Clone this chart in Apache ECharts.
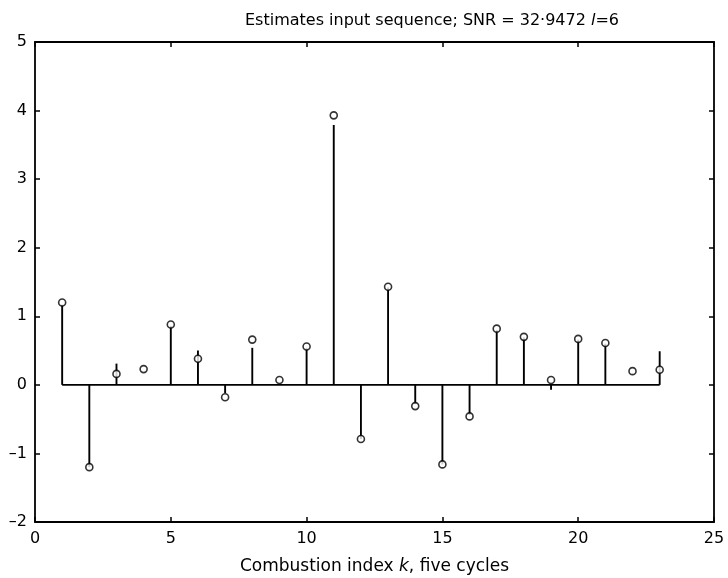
<!DOCTYPE html>
<html>
<head>
<meta charset="utf-8">
<script src="https://cdn.jsdelivr.net/npm/echarts@6/dist/echarts.min.js"></script>
<style>
  html, body { margin: 0; padding: 0; background: #fff; }
  #chart { width: 728px; height: 578px; }
</style>
</head>
<body>
<div id="chart"></div>
<script>
// Combustion index k (five cycles)
const indexK = [1, 2, 3, 4, 5, 6, 7, 8, 9, 10, 11, 12, 13, 14, 15, 16, 17, 18, 19, 20, 21, 22, 23];
// Stem heights (input sequence)
const stemValues = [1.17, -1.2, 0.31, 0, 0.86, 0.5, -0.12, 0.54, 0, 0.54, 3.79, -0.79, 1.42, -0.28, -1.16, -0.44, 0.8, 0.69, -0.07, 0.66, 0.6, 0, 0.49];
// Estimated input values (open circles)
const estimateValues = [1.2, -1.2, 0.16, 0.23, 0.88, 0.38, -0.18, 0.66, 0.07, 0.56, 3.93, -0.79, 1.43, -0.31, -1.16, -0.46, 0.82, 0.7, 0.07, 0.67, 0.61, 0.2, 0.22];
// Axis tick labels
const xTickLabels = [0, 5, 10, 15, 20, 25];
const yTickLabels = [-2, -1, 0, 1, 2, 3, 4, 5];

const INK = '#000';
const FONT = '"DejaVu Sans", "Liberation Sans", sans-serif';

const stemData = indexK.map((k, i) => [k, stemValues[i]]);
const estimateData = indexK.map((k, i) => [k, estimateValues[i]]);
const baselineData = [[indexK[0], 0], [indexK[indexK.length - 1], 0]];

const xMin = xTickLabels[0], xMax = xTickLabels[xTickLabels.length - 1];
const xStep = xTickLabels[1] - xTickLabels[0];
const yMin = yTickLabels[0], yMax = yTickLabels[yTickLabels.length - 1];
const yStep = yTickLabels[1] - yTickLabels[0];

const fmtNum = v => String(v).replace('-', '\u2013');

function boxAxis(common, extra) {
  return Object.assign({
    type: 'value',
    splitLine: { show: false },
    axisLine: { show: true, onZero: false, lineStyle: { color: INK, width: 1.8 } },
    axisTick: { show: true, inside: true, length: 5, lineStyle: { color: INK, width: 1.5 } }
  }, common, extra);
}

const chart = echarts.init(document.getElementById('chart'), null, { renderer: 'canvas' });

chart.setOption({
  animation: false,
  backgroundColor: '#fff',
  title: {
    text: 'Estimates input sequence; SNR = 32\u00b79472 {i|l}=6',
    left: 240,
    top: 8,
    textStyle: {
      fontFamily: FONT, fontSize: 16, fontWeight: 'normal', color: INK,
      rich: { i: { fontFamily: FONT, fontSize: 16, fontStyle: 'italic', color: INK } }
    }
  },
  grid: { left: 35, right: 14, top: 42, bottom: 56, containLabel: false, outerBoundsMode: 'none' },
  xAxis: [
    boxAxis({ min: xMin, max: xMax, interval: xStep }, {
      position: 'bottom',
      axisLabel: { color: INK, fontFamily: FONT, fontSize: 16, margin: 9 },
      name: 'Combustion index {i|k}, five cycles',
      nameLocation: 'middle',
      nameGap: 36,
      nameTextStyle: {
        color: INK, fontFamily: FONT, fontSize: 17,
        rich: { i: { fontFamily: FONT, fontSize: 17, fontStyle: 'italic', color: INK } }
      }
    }),
    boxAxis({ min: xMin, max: xMax, interval: xStep }, {
      position: 'top',
      axisLabel: { show: false }
    })
  ],
  yAxis: [
    boxAxis({ min: yMin, max: yMax, interval: yStep }, {
      position: 'left',
      axisLabel: { color: INK, fontFamily: FONT, fontSize: 16, margin: 8, formatter: fmtNum }
    }),
    boxAxis({ min: yMin, max: yMax, interval: yStep }, {
      position: 'right',
      axisLabel: { show: false }
    })
  ],
  series: [
    {
      name: 'baseline',
      type: 'line',
      data: baselineData,
      showSymbol: false,
      lineStyle: { color: INK, width: 1.8 },
      silent: true,
      z: 2
    },
    {
      name: 'input',
      type: 'custom',
      data: stemData,
      encode: { x: 0, y: 1 },
      renderItem: function (params, api) {
        const k = api.value(0);
        const v = api.value(1);
        const p0 = api.coord([k, 0]);
        const p1 = api.coord([k, v]);
        return {
          type: 'line',
          shape: { x1: p0[0], y1: p0[1], x2: p1[0], y2: p1[1] },
          style: { stroke: INK, lineWidth: 1.9 }
        };
      },
      z: 3
    },
    {
      name: 'estimate',
      type: 'scatter',
      data: estimateData,
      symbol: 'circle',
      symbolSize: 7,
      itemStyle: { color: '#fff', borderColor: INK, borderWidth: 1.6 },
      z: 4
    }
  ]
});
</script>
</body>
</html>
